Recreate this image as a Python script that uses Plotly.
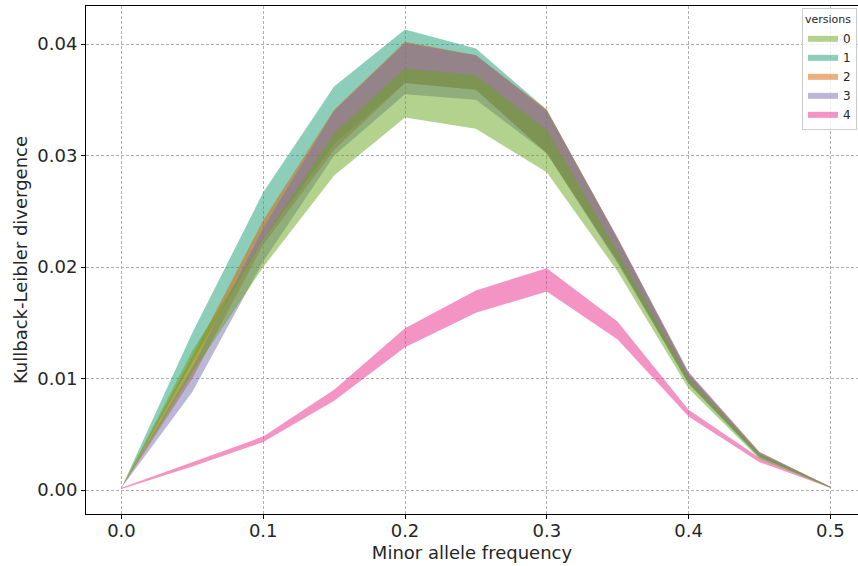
import plotly.graph_objects as go

maf = [0.0, 0.05, 0.1, 0.15, 0.2, 0.25, 0.3, 0.35, 0.4, 0.45, 0.5]
versions = ["0", "1", "2", "3", "4"]

v0_low = [0.0002, 0.0105, 0.0200, 0.0282, 0.0334, 0.0324, 0.0285, 0.0196, 0.0091, 0.0028, 0.0002]
v0_up = [0.0002, 0.0125, 0.0225, 0.0320, 0.0378, 0.0372, 0.0323, 0.0213, 0.0100, 0.0032, 0.0003]
v1_low = [0.0002, 0.0115, 0.0225, 0.0310, 0.0365, 0.0359, 0.0302, 0.0205, 0.0095, 0.0029, 0.0002]
v1_up = [0.0002, 0.0141, 0.0267, 0.0362, 0.0413, 0.0396, 0.0341, 0.0225, 0.0104, 0.0033, 0.0003]
v2_low = [0.0002, 0.0100, 0.0220, 0.0305, 0.0365, 0.0359, 0.0302, 0.0205, 0.0096, 0.0030, 0.0002]
v2_up = [0.0002, 0.0120, 0.0242, 0.0341, 0.0402, 0.0390, 0.0341, 0.0226, 0.0105, 0.0034, 0.0003]
v3_low = [0.0002, 0.0088, 0.0205, 0.0300, 0.0355, 0.0350, 0.0302, 0.0203, 0.0096, 0.0030, 0.0002]
v3_up = [0.0002, 0.0110, 0.0235, 0.0340, 0.0401, 0.0390, 0.0340, 0.0226, 0.0106, 0.0034, 0.0003]
v4_low = [0.0001, 0.0021, 0.0043, 0.0080, 0.0128, 0.0159, 0.0178, 0.0135, 0.0066, 0.0025, 0.0002]
v4_up = [0.0002, 0.0025, 0.0048, 0.0090, 0.0145, 0.0179, 0.0199, 0.0151, 0.0072, 0.0029, 0.0002]

bands = {"0": (v0_low, v0_up), "1": (v1_low, v1_up), "2": (v2_low, v2_up),
         "3": (v3_low, v3_up), "4": (v4_low, v4_up)}
# Dark2 palette, drawn with alpha 0.5
colors = {"0": (102, 166, 30), "1": (27, 158, 119), "2": (217, 95, 2),
          "3": (117, 112, 179), "4": (231, 41, 138)}
alpha = 0.5
draw_order = ["1", "2", "3", "4", "0"]

fig = go.Figure()
for name in draw_order:
    lo, up = bands[name]
    c = colors[name]
    fig.add_trace(go.Scatter(
        x=maf + maf[::-1],
        y=up + lo[::-1],
        fill="toself",
        fillcolor=f"rgba({c[0]},{c[1]},{c[2]},{alpha})",
        line=dict(width=0),
        mode="lines",
        name=name,
        legendrank=versions.index(name) + 1,
        hoveron="fills",
    ))

axis_common = dict(
    showgrid=True, gridcolor="#b0b0b0", griddash="3px,2px", gridwidth=1,
    zeroline=False, showline=True, linecolor="black", linewidth=1,
    ticks="outside", ticklen=4, tickcolor="black", automargin=False,
    tickfont=dict(family="DejaVu Sans", size=18, color="#262626"),
)

fig.update_layout(
    width=858, height=566,
    margin=dict(l=86, r=0, t=6, b=52),
    paper_bgcolor="white", plot_bgcolor="white",
    font=dict(family="DejaVu Sans", color="#262626"),
    xaxis=dict(range=[-0.025, 0.5195], tickvals=[0, 0.1, 0.2, 0.3, 0.4, 0.5],
               ticktext=["0.0", "0.1", "0.2", "0.3", "0.4", "0.5"], mirror=True,
               ticklabelstandoff=-4,
               title=dict(text="Minor allele frequency", font=dict(size=18), standoff=6),
               **axis_common),
    yaxis=dict(range=[-0.00215, 0.04341], tickvals=[0, 0.01, 0.02, 0.03, 0.04],
               ticktext=["0.00", "0.01", "0.02", "0.03", "0.04"],
               title=dict(text="Kullback-Leibler divergence", font=dict(size=18), standoff=5),
               **axis_common),
    legend=dict(
        title=dict(text="versions", font=dict(size=11)),
        x=0.9987, y=0.996, xanchor="right", yanchor="top",
        bgcolor="rgba(255,255,255,0.8)", bordercolor="#cccccc", borderwidth=1,
        font=dict(size=12), tracegroupgap=0, itemwidth=30,
    ),
    showlegend=True,
)

fig.write_html("out.html", config={"displayModeBar": False},
               post_script="document.body.style.margin='0';")
